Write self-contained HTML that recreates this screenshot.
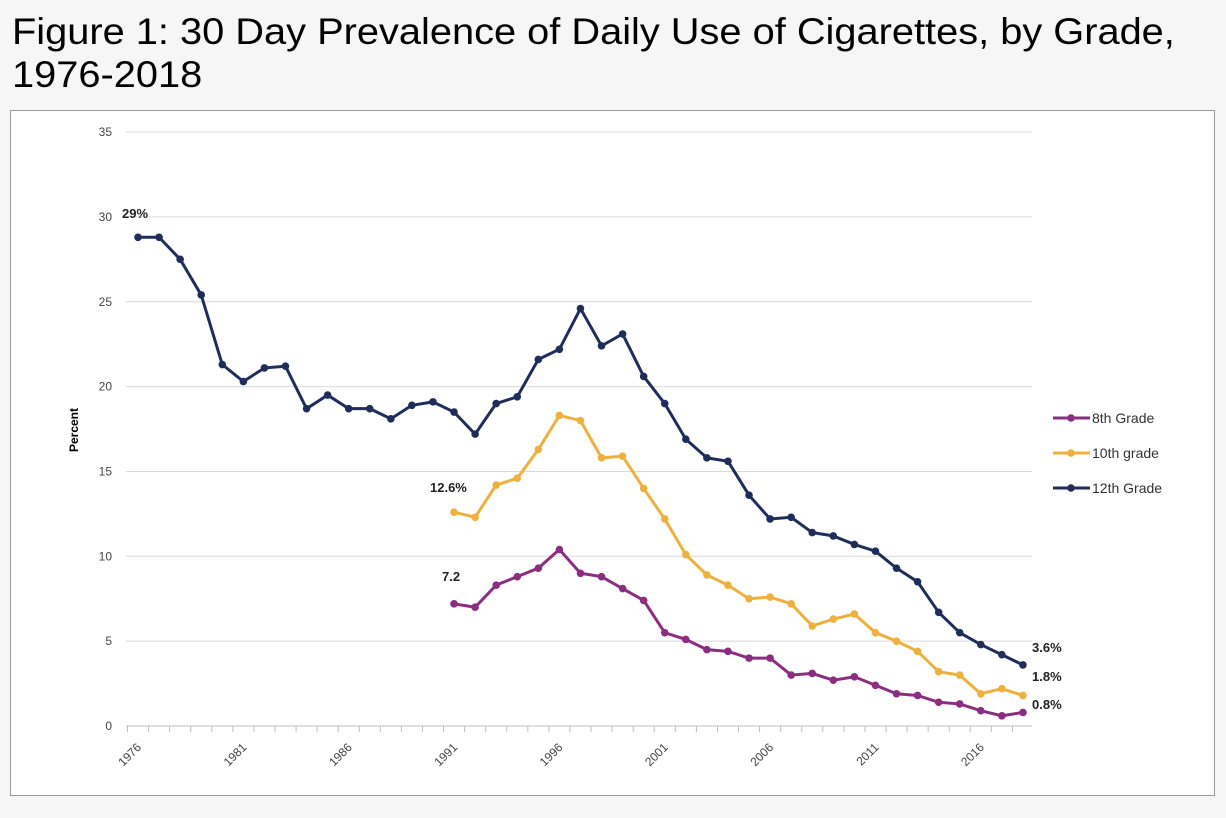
<!DOCTYPE html>
<html><head><meta charset="utf-8"><style>
body{margin:0;background:#f5f6f5;width:1226px;height:818px;overflow:hidden;font-family:"Liberation Sans",sans-serif}
.t{position:absolute;left:12px;top:10px;font-size:37px;line-height:43px;color:#000;transform:scaleX(1.075);transform-origin:0 0;white-space:nowrap}
</style></head><body>
<div class="t">Figure 1: 30 Day Prevalence of Daily Use of Cigarettes, by Grade,<br>1976-2018</div>
<svg id="s" width="1226" height="818" style="position:absolute;left:0;top:0"></svg>
<script>
var s=document.getElementById('s'),h='';
h+='<rect x="10.5" y="110.5" width="1204" height="685" fill="#fff" stroke="#999"/>';
function Y(v){return 726-v*16.97}function X(y){return 138+(y-1976)*21.07}
for(var v=0;v<=35;v+=5){var y=Y(v);h+='<line x1="126" x2="1032" y1="'+y+'" y2="'+y+'" stroke="'+(v?'#d9d9d9':'#bfbfbf')+'"/>';
h+='<text x="112" y="'+(y+4)+'" font-size="12" text-anchor="end" fill="#444">'+v+'</text>';}
for(var yr=1976;yr<=2018;yr++){var x=X(yr)-10.5;h+='<line x1="'+x+'" x2="'+x+'" y1="726" y2="732" stroke="#bfbfbf"/>';}
for(var yr=1976;yr<=2016;yr+=5){var x=X(yr);h+='<text transform="translate('+(x+4)+',748) rotate(-45)" font-size="12" text-anchor="end" fill="#444">'+yr+'</text>';}
h+='<text transform="translate(78,430) rotate(-90)" font-size="12" font-weight="bold" text-anchor="middle">Percent</text>';
var d12=[28.8,28.8,27.5,25.4,21.3,20.3,21.1,21.2,18.7,19.5,18.7,18.7,18.1,18.9,19.1,18.5,17.2,19.0,19.4,21.6,22.2,24.6,22.4,23.1,20.6,19.0,16.9,15.8,15.6,13.6,12.2,12.3,11.4,11.2,10.7,10.3,9.3,8.5,6.7,5.5,4.8,4.2,3.6];
var d10=[12.6,12.3,14.2,14.6,16.3,18.3,18.0,15.8,15.9,14.0,12.2,10.1,8.9,8.3,7.5,7.6,7.2,5.9,6.3,6.6,5.5,5.0,4.4,3.2,3.0,1.9,2.2,1.8];
var d8=[7.2,7.0,8.3,8.8,9.3,10.4,9.0,8.8,8.1,7.4,5.5,5.1,4.5,4.4,4.0,4.0,3.0,3.1,2.7,2.9,2.4,1.9,1.8,1.4,1.3,0.9,0.6,0.8];
function ser(d,st,c){var p=[],dots='';d.forEach(function(v,i){var x=X(st+i),y=Y(v);p.push(x+','+y);dots+='<circle cx="'+x+'" cy="'+y+'" r="3.8" fill="'+c+'"/>';});
h+='<polyline points="'+p.join(' ')+'" fill="none" stroke="'+c+'" stroke-width="3"/>'+dots;}
ser(d8,1991,'#8b2d80');ser(d10,1991,'#f0b13c');ser(d12,1976,'#1f2d5a');
function lab(x,y,t){h+='<text x="'+x+'" y="'+y+'" font-size="13" font-weight="bold" fill="#222">'+t+'</text>';}
lab(122,218,'29%');lab(430,492,'12.6%');lab(442,581,'7.2');lab(1032,652,'3.6%');lab(1032,681,'1.8%');lab(1032,709,'0.8%');
var lg=[['8th Grade','#8b2d80',418],['10th grade','#f0b13c',453],['12th Grade','#1f2d5a',488]];
lg.forEach(function(l){h+='<line x1="1053" x2="1090" y1="'+l[2]+'" y2="'+l[2]+'" stroke="'+l[1]+'" stroke-width="3"/><circle cx="1071" cy="'+l[2]+'" r="3.8" fill="'+l[1]+'"/><text x="1092" y="'+(l[2]+5)+'" font-size="14" fill="#333">'+l[0]+'</text>';});
s.innerHTML=h;
</script>
</body></html>
